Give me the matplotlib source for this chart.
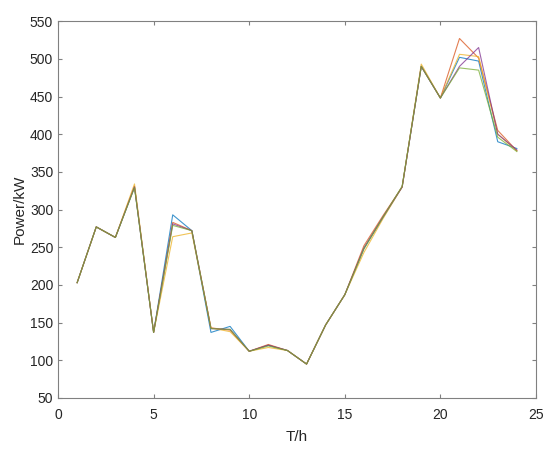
import numpy as np
import matplotlib
matplotlib.use("Agg")
import matplotlib.pyplot as plt

plt.rcParams['font.family'] = ['Liberation Sans', 'DejaVu Sans']

hours = np.arange(1, 25)

# five load curves
blue = [203, 277, 263, 330, 137, 293, 272, 137, 145, 112, 120, 113,
        95, 147, 187, 248, 290, 330, 490, 448, 502, 497, 390, 381]
red = [203, 277, 263, 331, 137, 283, 272, 143, 140, 112, 121, 113,
       95, 147, 187, 252, 292, 330, 490, 448, 527, 501, 405, 378]
yellow = [203, 277, 263, 334, 137, 264, 269, 143, 138, 112, 117, 113,
          95, 147, 187, 243, 288, 330, 493, 448, 506, 503, 400, 378]
purple = [203, 277, 263, 330, 137, 281, 272, 142, 141, 112, 120, 113,
          95, 147, 187, 249, 290, 330, 490, 448, 490, 515, 400, 379]
green = [203, 277, 263, 329, 137, 279, 272, 142, 141, 112, 119, 113,
         95, 147, 187, 248, 290, 331, 490, 448, 488, 485, 396, 377]

series = [blue, red, yellow, purple, green]
colors = ['#0072BD', '#D95319', '#EDB120', '#7E2F8E', '#77AC30']

fig = plt.figure(figsize=(5.5, 4.5), dpi=100)
ax = fig.add_axes([0.1055, 0.1156, 0.869, 0.8374])

for s, c in zip(series, colors):
    ax.plot(hours, s, color=c, linewidth=0.8, alpha=0.75)

ax.set_xlim(0, 25)
ax.set_ylim(50, 550)
ax.set_xticks(range(0, 26, 5))
ax.set_yticks(range(50, 551, 50))
ax.set_xlabel('T/h', fontsize=11, color='#262626', labelpad=6)
ax.set_ylabel('Power/kW', fontsize=11, color='#262626', labelpad=2)

for sp in ax.spines.values():
    sp.set_color('#808080')
    sp.set_linewidth(0.8)
ax.tick_params(direction='in', top=True, right=True, length=3,
               color='#808080', labelsize=10, labelcolor='#262626')
ax.tick_params(axis='x', pad=7)

fig.savefig('out.png', dpi=100)
